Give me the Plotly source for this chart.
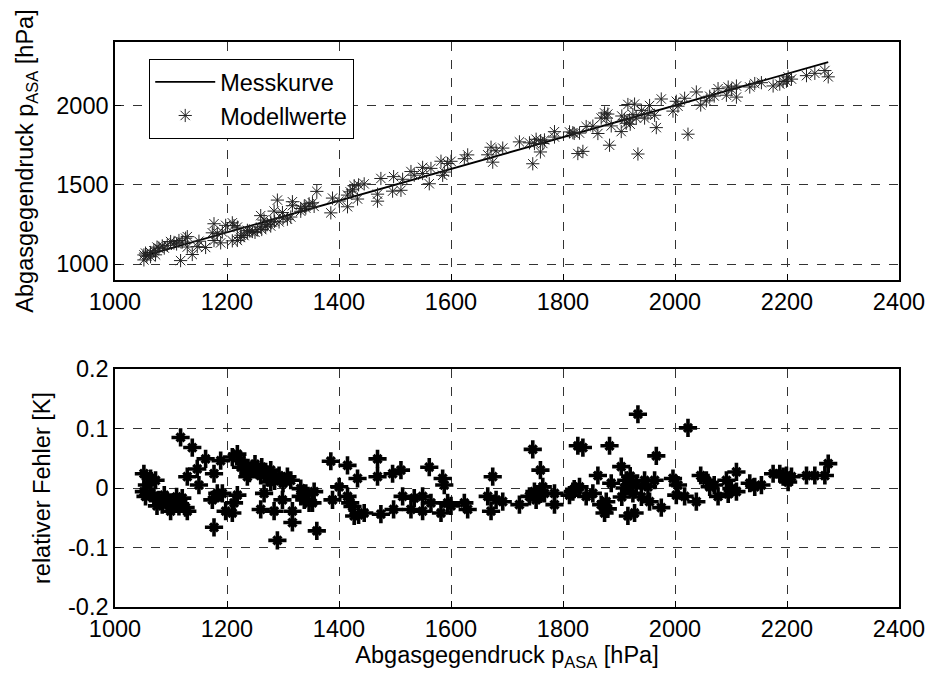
import plotly.graph_objects as go
from plotly.subplots import make_subplots

# measured exhaust back pressure [hPa] and relative model error
p_asa = [
    1051.6, 1063.5, 1072.4, 1051.6, 1054.5, 1063.5, 1069.4, 1078.4, 1084.4, 1093.3,
    1099.3, 1105.2, 1114.2, 1120.1, 1126.1, 1129.1, 1117.1, 1138.0, 1129.1, 1146.9,
    1149.9, 1161.8, 1176.8, 1176.8, 1173.8, 1182.7, 1188.7, 1191.7, 1197.6, 1209.5,
    1212.5, 1218.5, 1209.5, 1218.5, 1224.4, 1230.4, 1236.4, 1236.4, 1245.3, 1254.2,
    1260.2, 1260.2, 1266.2, 1269.1, 1278.1, 1278.1, 1284.1, 1290.0, 1293.0, 1299.0,
    1307.9, 1313.9, 1316.8, 1316.8, 1331.7, 1331.7, 1340.7, 1346.6, 1355.6, 1352.6,
    1360.4, 1385.4, 1388.4, 1400.3, 1415.2, 1415.2, 1424.1, 1427.1, 1433.1, 1445.0,
    1468.8, 1468.8, 1474.8, 1497.5, 1495.7, 1510.6, 1513.6, 1528.5, 1534.4, 1549.3,
    1549.3, 1561.2, 1564.2, 1585.1, 1588.0, 1582.1, 1594.0, 1623.8, 1629.8, 1665.6,
    1674.5, 1671.5, 1680.5, 1692.4, 1722.2, 1746.0, 1740.1, 1749.0, 1752.0, 1759.7,
    1763.9, 1766.9, 1784.8, 1784.8, 1811.6, 1817.6, 1826.5, 1835.5, 1829.5, 1841.4,
    1853.3, 1862.3, 1868.2, 1874.2, 1877.2, 1883.1, 1886.1, 1904.0, 1915.9, 1912.9,
    1918.9, 1924.8, 1927.8, 1933.8, 1930.8, 1945.7, 1951.7, 1954.6, 1963.6, 1966.6,
    1975.5, 1996.4, 2002.3, 2005.3, 2017.2, 2023.2, 2038.1, 2045.9, 2056.0, 2062.0,
    2076.9, 2091.8, 2100.7, 2109.7, 2109.7, 2133.5, 2142.4, 2154.3, 2175.2, 2187.1,
    2193.1, 2199.0, 2202.0, 2208.0, 2234.8, 2249.7, 2267.6, 2273.6,
    1057.0, 1075.0, 1088.0, 1110.0, 1240.0, 1250.0, 1262.0, 1272.0, 1285.0, 1300.0,
    1225.0, 1910.0, 1920.0, 1905.0, 1880.0, 1940.0, 1760.0, 1820.0, 2070.0, 2095.0,
    1435.0, 1420.0, 1338.0, 1600.0,
]
rel_err = [
    0.024, 0.016, 0.013, -0.006, -0.014, -0.009, -0.014, -0.020, -0.028, -0.023,
    -0.039, -0.025, -0.031, -0.017, -0.033, -0.039, 0.085, 0.068, 0.019, 0.032,
    0.005, 0.049, 0.024, -0.066, -0.020, -0.009, 0.046, -0.009, -0.039, -0.042,
    -0.025, -0.012, 0.052, 0.057, 0.046, 0.041, 0.032, 0.019, 0.032, 0.030,
    0.021, -0.036, -0.009, 0.027, 0.030, 0.010, -0.039, -0.088, 0.021, -0.020,
    0.019, 0.013, -0.039, -0.058, -0.001, -0.014, -0.009, -0.025, -0.006, -0.025,
    -0.072, 0.045, -0.020, 0.002, 0.038, -0.014, -0.031, -0.047, 0.016, -0.042,
    0.049, 0.019, -0.044, -0.036, 0.024, 0.030, -0.014, -0.036, -0.017, -0.014,
    -0.039, 0.035, -0.025, 0.016, 0.005, -0.042, -0.025, -0.025, -0.036, -0.014,
    0.019, -0.039, -0.020, -0.023, -0.028, 0.065, -0.014, -0.006, -0.020, 0.030,
    0.002, -0.009, -0.009, -0.028, -0.012, -0.006, 0.071, 0.068, 0.002, -0.014,
    -0.009, 0.021, -0.028, -0.042, -0.023, 0.071, 0.008, 0.036, -0.047, 0.013,
    0.005, -0.009, -0.042, 0.124, 0.005, 0.013, 0.002, -0.023, 0.013, 0.054,
    -0.033, 0.016, -0.012, 0.005, -0.014, 0.101, -0.023, 0.021, 0.013, 0.002,
    -0.014, 0.013, -0.001, 0.027, -0.006, 0.008, 0.002, 0.005, 0.024, 0.024,
    0.019, 0.021, 0.010, 0.019, 0.021, 0.021, 0.021, 0.041,
    0.005, -0.030, -0.012, -0.015, 0.025, 0.040, 0.035, 0.018, 0.012, 0.008,
    0.035, 0.000, 0.020, -0.015, -0.035, -0.015, -0.010, -0.002, 0.005, -0.010,
    -0.045, -0.025, -0.020, -0.030,
]

x_ticks = [1000, 1200, 1400, 1600, 1800, 2000, 2200, 2400]
y_ticks_top = [1000, 1500, 2000]
y_ticks_bottom = [-0.2, -0.1, 0, 0.1, 0.2]
y_tick_labels_bottom = ["-0.2", "-0.1", "0", "0.1", "0.2"]

# model values follow from the measured pressure and the relative error
p_model = [p * (1 - e) for p, e in zip(p_asa, rel_err)]
p_sorted = sorted(p_asa)

FONT = "Liberation Sans, Arial, sans-serif"
FS = 23.5

fig = make_subplots(rows=2, cols=1, vertical_spacing=0.1576)

fig.add_trace(go.Scatter(
    x=p_sorted, y=p_sorted, mode="lines", name="Messkurve",
    line=dict(color="black", width=1.8),
), row=1, col=1)
fig.add_trace(go.Scatter(
    x=p_asa, y=p_model, mode="markers", name="Modellwerte",
    marker=dict(symbol="asterisk-open", size=11, color="#222222",
                line=dict(color="#222222", width=1)),
), row=1, col=1)

# bold star markers for the error plot: upright cross plus shorter diagonals
fig.add_trace(go.Scatter(
    x=p_asa, y=rel_err, mode="markers", showlegend=False,
    marker=dict(symbol="cross-thin-open", size=13, color="black",
                line=dict(color="black", width=3.6)),
), row=2, col=1)
fig.add_trace(go.Scatter(
    x=p_asa, y=rel_err, mode="markers", showlegend=False,
    marker=dict(symbol="x-thin-open", size=8, color="black",
                line=dict(color="black", width=3.2)),
), row=2, col=1)

axis_common = dict(
    showline=True, linecolor="black", linewidth=1.5, mirror=True,
    ticks="inside", ticklen=6, tickcolor="black",
    showgrid=True, gridcolor="#333333", gridwidth=1, griddash="dash",
    zeroline=False, automargin=False,
    tickfont=dict(family=FONT, size=FS, color="black"),
)

for r in (1, 2):
    fig.update_xaxes(range=[1000, 2400], tickvals=x_ticks, row=r, col=1, **axis_common)

fig.update_yaxes(range=[900, 2400], tickvals=y_ticks_top, row=1, col=1,
                 title=dict(text="Abgasgegendruck p<sub>ASA</sub> [hPa]",
                            font=dict(family=FONT, size=FS, color="black"),
                            standoff=16),
                 **axis_common)
fig.update_yaxes(range=[-0.2, 0.2], tickvals=y_ticks_bottom, ticktext=y_tick_labels_bottom,
                 row=2, col=1,
                 title=dict(text="relativer Fehler [K]",
                            font=dict(family=FONT, size=FS, color="black"),
                            standoff=11),
                 **axis_common)
fig.update_xaxes(row=2, col=1,
                 title=dict(text="Abgasgegendruck p<sub>ASA</sub> [hPa]",
                            font=dict(family=FONT, size=FS, color="black"),
                            standoff=0))

fig.update_layout(
    width=927, height=675,
    margin=dict(l=115, r=28, t=42, b=68),
    paper_bgcolor="white", plot_bgcolor="white",
    font=dict(family=FONT, size=FS, color="black"),
    showlegend=True,
    legend=dict(
        x=0.0434, y=0.970, xanchor="left", yanchor="top",
        bgcolor="white", bordercolor="black", borderwidth=1.2,
        font=dict(family=FONT, size=FS, color="black"),
        tracegroupgap=0, itemwidth=60,
    ),
)

fig.write_html("out.html")
